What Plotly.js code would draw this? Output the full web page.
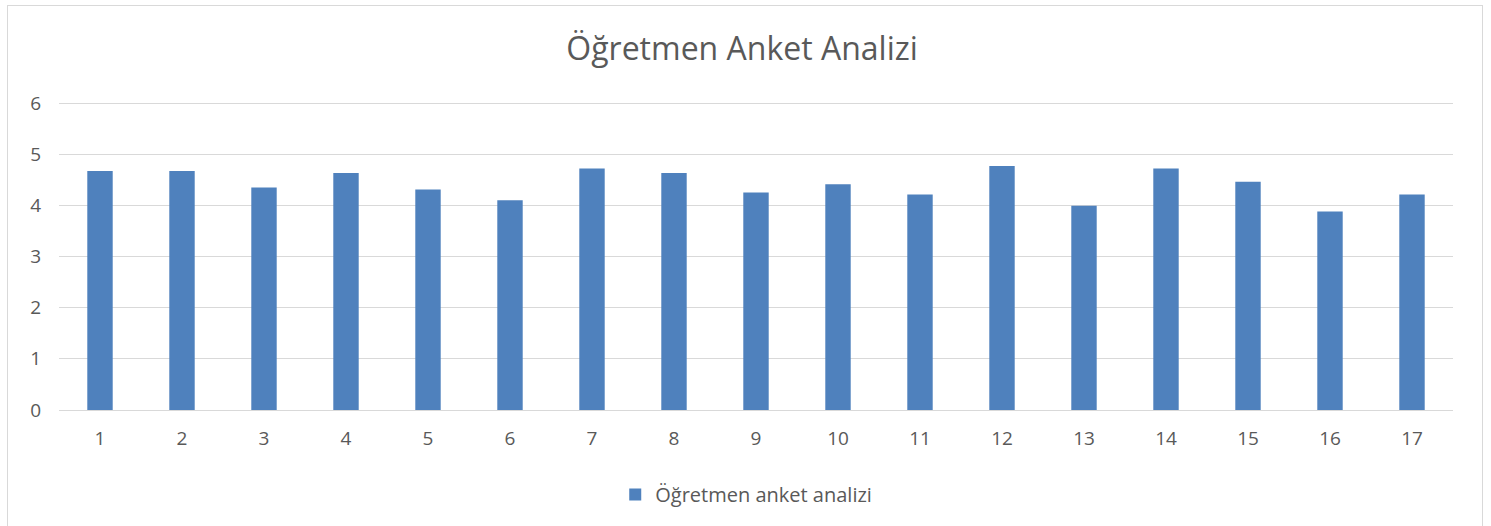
<!DOCTYPE html>
<html>
<head>
<meta charset="utf-8">
<script src="https://cdn.plot.ly/plotly-3.0.1.min.js"></script>
<style>
  html, body { margin: 0; padding: 0; background: #ffffff; overflow: hidden; }
  #frame { position: absolute; left: 7px; top: 5px; width: 1476px; height: 540px; border: 1px solid #d9d9d9; box-sizing: border-box; }
  #chart { width: 1474px; height: 538px; }
</style>
</head>
<body>
<div id="frame"><div id="chart"></div></div>
<script>
const categories = ["1","2","3","4","5","6","7","8","9","10","11","12","13","14","15","16","17"];
const values = [4.67, 4.67, 4.35, 4.63, 4.31, 4.10, 4.72, 4.63, 4.25, 4.41, 4.21, 4.77, 3.99, 4.72, 4.46, 3.88, 4.21];
const seriesName = "Öğretmen anket analizi";
const chartTitle = "Öğretmen Anket Analizi";
const yRange = [0, 6.02];

const textColor = "#595959";
const fontFamily = "'Open Sans', 'Noto Sans', sans-serif";

const trace = {
  type: "bar",
  x: categories,
  y: values,
  name: seriesName,
  marker: { color: "#4f81bd" },
  hoverinfo: "x+y"
};

const layout = {
  width: 1474,
  height: 538,
  margin: { l: 51, r: 29, t: 96, b: 134 },
  paper_bgcolor: "#ffffff",
  plot_bgcolor: "#ffffff",
  font: { family: fontFamily, color: textColor, size: 19 },
  title: {
    text: chartTitle,
    font: { family: fontFamily, size: 32, color: textColor },
    x: 0.498, xanchor: "center",
    y: 1 - 43 / 538, yanchor: "middle"
  },
  bargap: 0.69,
  showlegend: true,
  legend: {
    orientation: "h",
    x: 0.493, xanchor: "center",
    y: -0.274, yanchor: "middle",
    font: { size: 20, color: textColor },
    itemwidth: 30
  },
  xaxis: {
    type: "category",
    showgrid: false,
    showline: true,
    linecolor: "#d9d9d9",
    linewidth: 1,
    ticks: "",
    ticklabelstandoff: 11,
    tickfont: { size: 19, color: textColor },
    zeroline: false
  },
  yaxis: {
    range: yRange,
    dtick: 1,
    tick0: 0,
    showgrid: true,
    gridcolor: "#d9d9d9",
    gridwidth: 1,
    zeroline: false,
    showline: false,
    ticks: "",
    ticklabelstandoff: 17,
    tickfont: { size: 19, color: textColor }
  }
};

Plotly.newPlot("chart", [trace], layout, { displayModeBar: false, staticPlot: true });
</script>
</body>
</html>
